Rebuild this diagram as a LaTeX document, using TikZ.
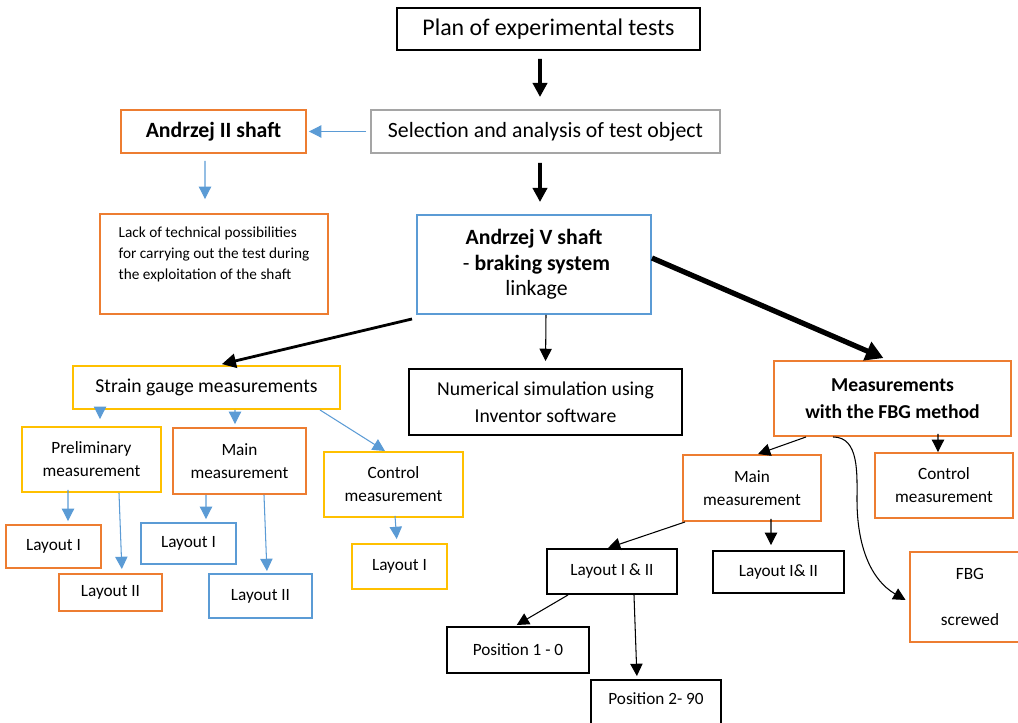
\documentclass[tikz,border=0pt]{standalone}
\usepackage{fontspec}
\setmainfont{Carlito}
\usetikzlibrary{arrows.meta}
\definecolor{boxorange}{HTML}{ED7D31}
\definecolor{boxblue}{HTML}{5B9BD5}
\definecolor{boxyellow}{HTML}{FFC000}
\definecolor{boxgray}{HTML}{A5A5A5}
\begin{document}
\begin{tikzpicture}[x=0.02cm, y=-0.02cm,
    box/.style={draw, line width=1.1pt, inner sep=0pt, align=center},
    wh/.style 2 args={minimum width=#1*0.02cm, minimum height=#2*0.02cm},
    fbig/.style={font=\fontsize{13.6}{16}\selectfont},
    fmid/.style={font=\fontsize{12.4}{14.5}\selectfont},
    fnum/.style={font=\fontsize{11.2}{15.3}\selectfont},
    fsmall/.style={font=\fontsize{9.8}{13}\selectfont},
    ftiny/.style={font=\fontsize{8.7}{12}\selectfont},
    bluearrow/.style={draw=boxblue, line width=0.6pt, -{Triangle[length=7pt,width=7pt]}},
    thinarrow/.style={line width=0.6pt, -{Triangle[length=7pt,width=7pt]}}]
    \useasboundingbox (0,0) rectangle (1018,723);
                \node[box, wh={303}{42}, fbig] (plan) at (548.5,29) {Plan of experimental tests};
                \node[box, draw=boxgray, wh={349}{43}, fmid] (sel) at (545.5,131.5) {Selection and analysis of test object};
                \node[box, draw=boxorange, wh={185}{43}, fmid] (a2) at (213.5,131.5) {\textbf{Andrzej II shaft}};
                \node[box, draw=boxorange, wh={228}{100}, ftiny, align=left] (lack) at (214,264)
                    {Lack of technical possibilities\\for carrying out the test during\\the exploitation of the shaft\\~};
                \node[box, draw=boxblue, wh={234}{99}, fmid] (a5) at (534,264.5)
                    {\textbf{Andrzej V shaft}\\ \ - \textbf{braking system}\\ \ linkage};
                \node[box, wh={273}{66}, fnum] (num) at (545.5,402) {Numerical simulation using\\Inventor software};
                \node[box, draw=boxyellow, wh={267}{43}, fnum] (sg) at (206.5,387.5) {Strain gauge measurements};
                \node[box, draw=boxyellow, wh={139}{65}, fsmall] (prelim) at (91.5,459.5) {Preliminary\\measurement};
                \node[box, draw=boxorange, wh={133}{66}, fsmall] (mainL) at (239.5,461) {Main\\measurement};
                \node[box, draw=boxyellow, wh={139}{65}, fsmall] (ctrlL) at (393.5,484.5) {Control\\measurement};
                \node[box, draw=boxorange, wh={95}{43}, fsmall] (lay1a) at (53.5,546.5) {Layout I};
                \node[box, draw=boxorange, wh={103}{37}, fsmall] (lay2a) at (110.5,592.5) {Layout II};
                \node[box, draw=boxblue, wh={95}{41}, fsmall] (lay1b) at (188.5,543.5) {Layout I};
                \node[box, draw=boxblue, wh={103}{44}, fsmall] (lay2b) at (260.5,596) {Layout II};
                \node[box, draw=boxyellow, wh={95}{45}, fsmall] (lay1c) at (399.5,566.5) {Layout I};
                \node[box, draw=boxorange, wh={237}{75}, fnum] (fbg) at (892.5,398.5)
                    {\textbf{Measurements}\\\textbf{with the FBG method}};
                \node[box, draw=boxorange, wh={138}{66}, fsmall] (mainR) at (752,488) {Main\\measurement};
                \node[box, draw=boxorange, wh={138}{65}, fsmall] (ctrlR) at (944,485.5) {Control\\measurement};
                \node[box, draw=boxorange, wh={120}{90}, fsmall] (fbgs) at (970,597) {FBG\\[13.5pt]screwed};
                \node[box, wh={130}{45}, fsmall] (lay12a) at (612,571.5) {Layout I \& II};
                \node[box, wh={131}{42}, fsmall] (lay12b) at (778.5,572) {Layout I\& II};
                \node[box, wh={142}{46}, fsmall] (pos1) at (518,650) {Position 1 - 0};
                \node[box, wh={130}{50}, fsmall, text depth=7pt] (pos2) at (656,705) {Position 2- 90};
                \draw[line width=2.2pt, -{Triangle[length=8pt,width=8pt]}, shorten <=0.16cm, shorten >=0.24cm]
                    ([xshift=-0.17cm]plan.south) -- ([xshift=-0.11cm]sel.north);
                \draw[bluearrow, shorten <=0.08cm, shorten >=0.04cm] (sel.west) -- (a2.east);
                \draw[bluearrow, shorten <=0.14cm, shorten >=0.28cm]
                    ([xshift=-0.17cm]a2.south) -- ([xshift=-0.18cm]lack.north);
                \draw[line width=2.2pt, -{Triangle[length=8pt,width=8pt]}, shorten <=0.18cm, shorten >=0.24cm]
                    ([xshift=-0.11cm]sel.south) -- ([xshift=0.12cm]a5.north);
                \draw[line width=1.6pt, -{Triangle[length=8pt,width=8pt]}, shorten >=0.08cm]
                    ([xshift=-0.08cm,yshift=-0.08cm]a5.south west) -- ([xshift=0.23cm]sg.north);
                \draw[thinarrow, shorten >=0.14cm] ([xshift=0.24cm]a5.south) -- (num.north);
                \draw[line width=3pt, -{Triangle[length=10pt,width=11pt]}, shorten >=0.1cm]
                    ([yshift=0.13cm]a5.east) -- ([xshift=-0.09cm]fbg.north);
                \draw[bluearrow, shorten >=0.14cm] ([xshift=-2.13cm]sg.south) -- ([xshift=0.17cm]prelim.north);
                \draw[bluearrow, shorten >=0.06cm] ([xshift=0.57cm]sg.south) -- ([xshift=-0.09cm]mainL.north);
                \draw[bluearrow] ([xshift=2.27cm]sg.south) -- ([xshift=-0.17cm]ctrlL.north);
                \draw[bluearrow, shorten >=0.06cm] ([xshift=-0.47cm,yshift=0.06cm]prelim.south) -- ([xshift=0.29cm]lay1a.north);
                \draw[bluearrow, shorten >=0.08cm] ([xshift=0.55cm]prelim.south) -- ([xshift=0.23cm]lay2a.north);
                \draw[bluearrow, shorten >=0.06cm] ([xshift=-0.67cm]mainL.south) -- ([xshift=0.35cm]lay1b.north);
                \draw[bluearrow, shorten >=0.04cm] ([xshift=0.49cm]mainL.south) -- ([xshift=0.13cm]lay2b.north);
                \draw[bluearrow, shorten >=0.08cm] ([xshift=0.03cm,yshift=0.04cm]ctrlL.south) -- ([xshift=-0.05cm]lay1c.north);
                \draw[thinarrow] ([xshift=-1.73cm]fbg.south) -- ([xshift=0.12cm]mainR.north);
                \draw[thinarrow] ([xshift=0.91cm,yshift=0.06cm]fbg.south) -- ([xshift=-0.12cm]ctrlR.north);
                \draw[thinarrow, shorten >=0.08cm] ([xshift=-1.19cm]fbg.south)
                    to[out=0, in=90] (857,500) to[out=-90, in=150] ([yshift=-0.1cm]fbgs.west);
                \draw[thinarrow] ([xshift=0.06cm]mainR.south west) -- ([xshift=-0.08cm]lay12a.north);
                \draw[thinarrow, shorten >=0.1cm] ([xshift=0.38cm,yshift=0.06cm]mainR.south) -- ([xshift=-0.15cm]lay12b.north);
                \draw[thinarrow, shorten >=0.04cm] ([xshift=-0.88cm]lay12a.south) -- ([xshift=-0.06cm]pos1.north);
                \draw[thinarrow, shorten >=0.06cm] ([xshift=0.44cm]lay12a.south) -- ([xshift=-0.38cm]pos2.north);
\end{tikzpicture}
\end{document}
